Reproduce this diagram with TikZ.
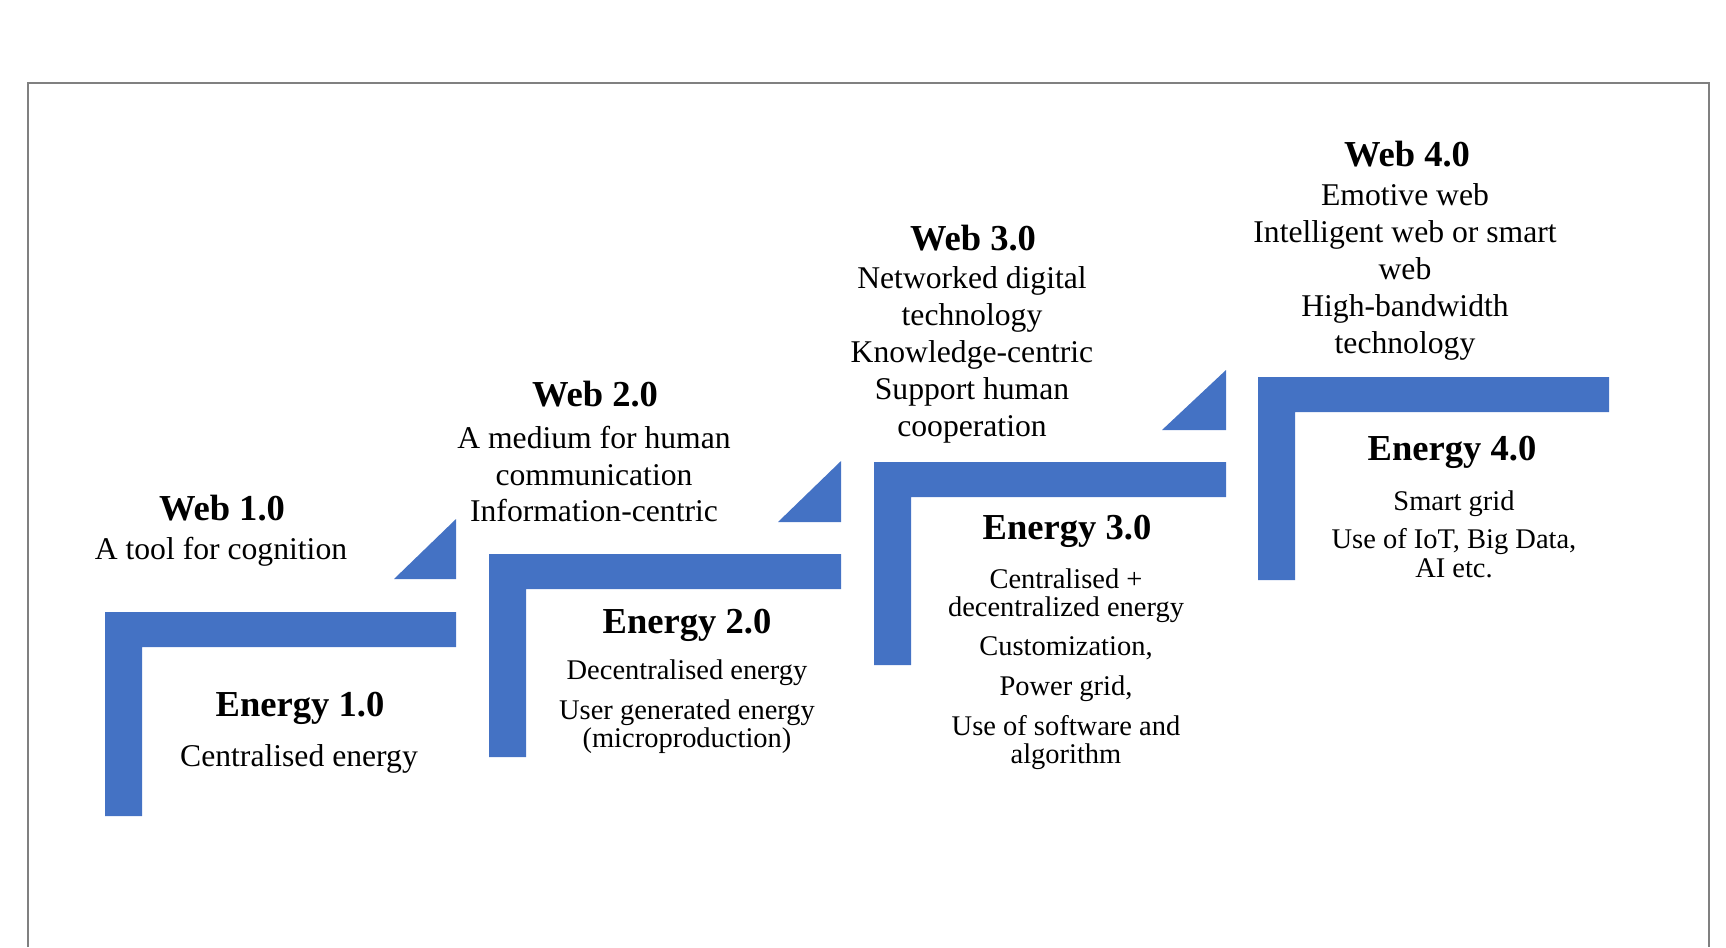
\documentclass[tikz,border=0pt]{standalone}
\usepackage{fontspec}
\setmainfont{Liberation Serif}
\usepackage{tikz}
\usetikzlibrary{positioning}
\definecolor{stepblue}{RGB}{68,114,196}
\definecolor{framegray}{RGB}{128,128,128}

\begin{document}
\begin{tikzpicture}[x = 0.01cm, y = -0.01cm]
	\tikzstyle{every node} = [inner sep = 0pt, align = center]
	\tikzstyle{stepfill} = [fill = stepblue, draw = none]
	\tikzstyle{headtxt} = [font = \fontsize{10.4}{12}\selectfont\bfseries]
	\tikzstyle{webtxt} = [font = \fontsize{9}{10.5}\selectfont]
	\tikzstyle{energytxt} = [font = \fontsize{8.1}{8}\selectfont]

\useasboundingbox (0,0) rectangle (1726,947);
\path[draw = framegray, line width = 0.5pt] (28,947) -- (28,83) -- (1709,83) -- (1709,947);

	% the four steps
	\path[stepfill] (105,612) -- (456,612) -- (456,647) -- (142,647) -- (142,816) -- (105,816) -- cycle;
	\path[stepfill] (489,554) -- (841,554) -- (841,589) -- (526,589) -- (526,757) -- (489,757) -- cycle;
	\path[stepfill] (874,462) -- (1226,462) -- (1226,497) -- (911,497) -- (911,665) -- (874,665) -- cycle;
	\path[stepfill] (1258,377) -- (1609,377) -- (1609,412) -- (1295,412) -- (1295,580) -- (1258,580) -- cycle;
	\path[stepfill] (394,579) -- (456,579) -- (456,519) -- cycle;
	\path[stepfill] (778,522) -- (841,522) -- (841,461) -- cycle;
	\path[stepfill] (1162,430) -- (1226,430) -- (1226,370) -- cycle;

\node[headtxt] (w1) at (222,508) {Web 1.0};
\node[webtxt] (w1txt) at (221,552) {A tool for cognition};
\node[headtxt] (w2) at (595,394) {Web 2.0};
\node[webtxt] (w2txt) at (594,474) {A medium for human\\communication\\Information-centric};
\node[headtxt] (w3) at (973,238) {Web 3.0};
\node[webtxt] (w3txt) at (972,355) {Networked digital\\technology\\Knowledge-centric\\Support human\\cooperation};
\node[headtxt] (w4) at (1407,154) {Web 4.0};
\node[webtxt] (w4txt) at (1405,272) {Emotive web\\Intelligent web or smart\\web\\High-bandwidth\\technology};

\node[headtxt] (e1) at (300,708) {Energy 1.0};
\node[webtxt] (e1txt) at (299,759) {Centralised energy};
\node[headtxt] (e2) at (687,625) {Energy 2.0};
\node[energytxt] (e2txt) at (687,707) {Decentralised energy\\[3.3pt]User generated energy\\(microproduction)};
\node[headtxt] (e3) at (1067,531) {Energy 3.0};
\node[energytxt] (e3txt) at (1066,669) {Centralised +\\decentralized energy\\[3.3pt]Customization,\\[3.3pt]Power grid,\\[3.3pt]Use of software and\\algorithm};
\node[headtxt] (e4) at (1452,452) {Energy 4.0};
\node[energytxt] (e4txt) at (1454,534) {Smart grid\\[3pt]Use of IoT, Big Data,\\AI etc.};
	\end{tikzpicture}
\end{document}
